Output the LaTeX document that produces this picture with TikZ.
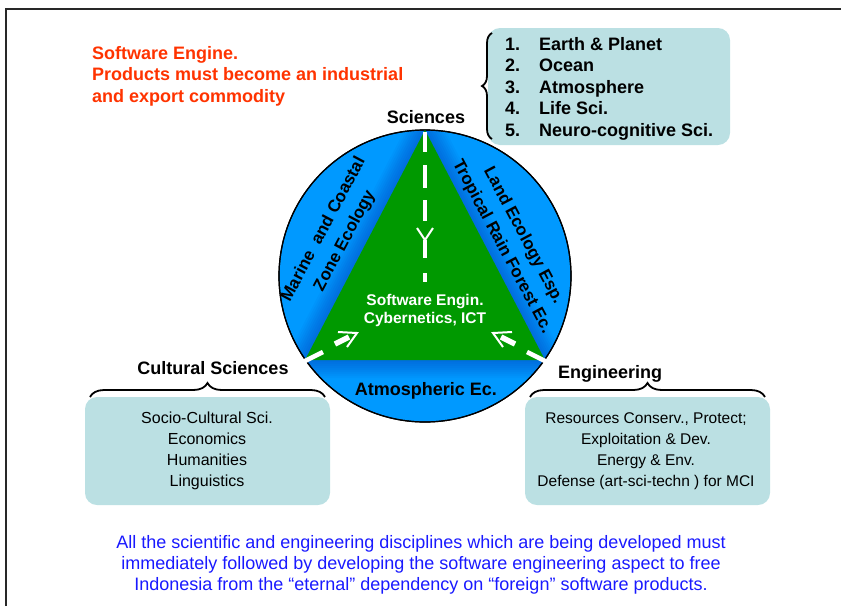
\documentclass[tikz,border=0pt]{standalone}
\usepackage{fontspec}
\setmainfont{Liberation Sans}
\usetikzlibrary{decorations.pathreplacing}
\definecolor{boxc}{RGB}{187,224,227}
\definecolor{discblue}{RGB}{0,153,255}
\definecolor{trigreen}{RGB}{0,153,0}
\definecolor{orangeT}{RGB}{255,51,0}
\definecolor{blueT}{RGB}{25,25,255}
\definecolor{framec}{RGB}{40,40,40}
\begin{document}
\begin{tikzpicture}[x=1pt,y=-1pt,
  infobox/.style={draw=none,fill=boxc,rounded corners=12pt,inner sep=0pt},
  bracec/.style={decorate,decoration={brace,amplitude=#1},line width=1.8pt},
  bigbold/.style={font=\bfseries\fontsize{18}{21.5}\selectfont},
  listfont/.style={font=\bfseries\fontsize{18}{21.5}\selectfont},
  plain/.style={font=\fontsize{16}{21.3}\selectfont},
  sidetext/.style={font=\bfseries\fontsize{17}{24}\selectfont,inner sep=0pt},
  whitedash/.style={white,line width=4.5pt},
  whitehead/.style={white,line width=2pt}]
\useasboundingbox (0,0) rectangle (841,606);
% frame (only top and left edges visible)
\draw[framec,line width=2pt] (6,606) -- (6,9) -- (841,9);

% orange title
\node[bigbold,text=orangeT,anchor=base west,inner sep=0pt] (title) at (92,59)
  {\begin{tabular}[t]{@{}l@{}}Software Engine.\\Products must become an industrial\\and export commodity\end{tabular}};

% disc
\coordinate (apex) at (425,130);
\coordinate (bl) at (305,360);
\coordinate (br) at (545,360);
\node[circle,draw=black,line width=1.2pt,fill=discblue,minimum size=292pt,inner sep=0pt] (disc) at (425,276) {};
\begin{scope}
  \clip (425,276) circle[radius=145.5pt];
  \foreach \w in {4,8,...,36}{
    \draw[blue!55!black,opacity=0.03,line width=\w pt,line join=round] (apex) -- (bl) -- (br) -- cycle;
  }
\end{scope}
\draw[black,line width=1.2pt] (disc.center) circle[radius=146pt];
\fill[trigreen] (apex) -- (bl) -- (br) -- cycle;

% white dashed arrows
\draw[whitedash] (425,132) -- (425,152);
\draw[whitedash] (425,165) -- (425,188);
\draw[whitedash] (425,200) -- (425,221);
\draw[whitedash] (425,240) -- (425,258);
\draw[whitehead] (417,228) -- (425,240) -- (433,228);
\draw[whitedash] (425,273) -- (425,282);

\draw[whitedash] (303,362) -- (323,352);
\draw[white,line width=5.5pt] (335,344) -- (349,337);
\draw[whitehead] (338,332) -- (357,333) -- (347,347);

\draw[whitedash] (547,362) -- (527,352);
\draw[white,line width=5.5pt] (515,344) -- (501,337);
\draw[whitehead] (512,332) -- (493,333) -- (503,347);

% texts on disc
\node[bigbold,anchor=base,inner sep=0pt] (sciences) at (426,123) {Sciences};
\node[font=\bfseries\fontsize{15.5}{18}\selectfont,text=white,anchor=base,inner sep=0pt] (core) at (425,305)
  {\begin{tabular}[t]{@{}c@{}}Software Engin.\\Cybernetics, ICT\end{tabular}};
\node[sidetext,rotate=62] (marine) at (334,235)
  {\begin{tabular}{@{}c@{}}Marine\ \ and Coastal\\Zone Ecology\end{tabular}};
\node[sidetext,rotate=-62] (land) at (513,241)
  {\begin{tabular}{@{}c@{}}Land Ecology Esp.\\Tropical Rain Forest Ec.\end{tabular}};
\node[bigbold,anchor=base,inner sep=0pt] (atmo) at (426,395) {Atmospheric Ec.};

% sciences list
\node[infobox,minimum width=242pt,minimum height=117pt] (listbox) at (609,86.5) {};
\draw[bracec=10pt] (492,139) -- (492,33);
\node[listfont,anchor=base west,inner sep=0pt] (list) at (505,50)
  {\begin{tabular}[t]{@{}l@{\hspace{19pt}}l@{}}1.&Earth \& Planet\\2.&Ocean\\3.&Atmosphere\\4.&Life Sci.\\5.&Neuro-cognitive Sci.\end{tabular}};

% cultural sciences
\node[infobox,minimum width=245pt,minimum height=108pt] (culbox) at (207.5,451) {};
\draw[bracec=14pt] (90,397) -- (325,397);
\node[bigbold,anchor=base,inner sep=0pt] (culhead) at (213,374) {Cultural Sciences};
\node[plain,anchor=base,inner sep=0pt] (cultext) at (207,423)
  {\begin{tabular}[t]{@{}c@{}}Socio-Cultural Sci.\\Economics\\Humanities\\Linguistics\end{tabular}};

% engineering
\node[infobox,minimum width=245pt,minimum height=108pt] (engbox) at (647.5,451) {};
\draw[bracec=14pt] (530,397) -- (765,397);
\node[bigbold,anchor=base,inner sep=0pt] (enghead) at (610,378) {Engineering};
\node[font=\fontsize{15.5}{21.3}\selectfont,anchor=base,inner sep=0pt] (engtext) at (646,423)
  {\begin{tabular}[t]{@{}c@{}}Resources Conserv., Protect;\\Exploitation \& Dev.\\Energy \& Env.\\Defense (art-sci-techn ) for MCI\end{tabular}};

% bottom note
\node[font=\fontsize{18}{21}\selectfont,text=blueT,anchor=base,inner sep=0pt] (note) at (421,548)
  {\begin{tabular}[t]{@{}c@{}}All the scientific and engineering disciplines which are being developed must\\immediately followed by developing the software engineering aspect to free\\Indonesia from the “eternal” dependency on “foreign” software products.\end{tabular}};
\end{tikzpicture}
\end{document}
